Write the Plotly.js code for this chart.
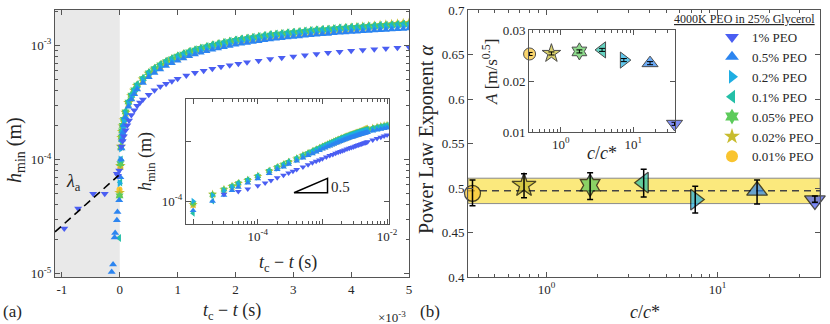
<!DOCTYPE html>
<html>
<head>
<meta charset="UTF-8">
<script src="https://cdn.plot.ly/plotly-3.0.1.min.js"></script>
<style>
  body { margin: 0; background: #fff; }
  #fig { width: 830px; height: 324px; }
</style>
</head>
<body>
<div id="fig"></div>
<script>
// ---- series (plotted from 0.01% up to 1%, legend reversed) ----
const seriesNames = ['0.01% PEO', '0.02% PEO', '0.05% PEO', '0.1% PEO', '0.2% PEO', '0.5% PEO', '1% PEO'];
const seriesColors = ['#f9c42f', '#c8bc2e', '#5dcb5b', '#24bfa7', '#1eaee3', '#2c85f0', '#4a5ef2'];
const seriesSymbols = ['circle', 'star', 'hexagram', 'triangle-left', 'triangle-right', 'triangle-up', 'triangle-down'];

// ---- panel (a): t_c - t in ms, h_min in mm ----
const tBand = [0.01, 0.02, 0.03, 0.04, 0.05, 0.07, 0.1, 0.15, 0.2, 0.25, 0.3, 0.4, 0.5, 0.6, 0.7, 0.8, 0.9, 1.0,
  1.1, 1.2, 1.3, 1.4, 1.5, 1.6, 1.7, 1.8, 1.9, 2.0, 2.1, 2.2, 2.3, 2.4, 2.5, 2.6, 2.7, 2.8, 2.9, 3.0,
  3.1, 3.2, 3.3, 3.4, 3.5, 3.6, 3.7, 3.8, 3.9, 4.0, 4.1, 4.2, 4.3, 4.4, 4.5, 4.6, 4.7, 4.8, 4.9, 5.0,
  6, 7, 8, 9, 10];

const h001 = [0.085, 0.129, 0.153, 0.174, 0.195, 0.220, 0.256, 0.313, 0.359, 0.400, 0.441, 0.502, 0.564, 0.615, 0.661, 0.707, 0.748, 0.789,
  0.825, 0.861, 0.892, 0.923, 0.953, 0.984, 1.010, 1.035, 1.061, 1.087, 1.107, 1.128, 1.148, 1.169, 1.189, 1.210, 1.225, 1.240, 1.256, 1.271,
  1.286, 1.302, 1.317, 1.333, 1.343, 1.353, 1.370, 1.388, 1.404, 1.420, 1.435, 1.450, 1.465, 1.480, 1.495, 1.510, 1.524, 1.538, 1.552, 1.565,
  1.63, 1.69, 1.74, 1.78, 1.82];
const h002 = [0.088, 0.130, 0.155, 0.175, 0.196, 0.221, 0.258, 0.314, 0.361, 0.402, 0.443, 0.505, 0.567, 0.618, 0.664, 0.711, 0.752, 0.793,
  0.829, 0.865, 0.896, 0.927, 0.958, 0.989, 1.015, 1.040, 1.066, 1.092, 1.112, 1.133, 1.154, 1.174, 1.195, 1.215, 1.231, 1.246, 1.262, 1.277,
  1.293, 1.308, 1.324, 1.339, 1.349, 1.360, 1.375, 1.395, 1.410, 1.425, 1.440, 1.455, 1.470, 1.485, 1.500, 1.515, 1.530, 1.545, 1.558, 1.570,
  1.63, 1.69, 1.74, 1.78, 1.82];
const h005 = [0.092, 0.128, 0.157, 0.178, 0.199, 0.225, 0.261, 0.319, 0.366, 0.408, 0.449, 0.512, 0.575, 0.627, 0.674, 0.721, 0.763, 0.805,
  0.841, 0.878, 0.909, 0.941, 0.972, 1.003, 1.029, 1.055, 1.082, 1.108, 1.129, 1.150, 1.170, 1.191, 1.212, 1.233, 1.249, 1.264, 1.280, 1.296,
  1.311, 1.327, 1.343, 1.359, 1.369, 1.379, 1.395, 1.411, 1.421, 1.432, 1.442, 1.453, 1.463, 1.473, 1.484, 1.494, 1.505, 1.515, 1.526, 1.536,
  1.609, 1.672, 1.724, 1.766, 1.808];
const h01 = [0.063, 0.100, 0.145, 0.175, 0.200, 0.228, 0.265, 0.323, 0.371, 0.413, 0.456, 0.519, 0.583, 0.636, 0.684, 0.731, 0.774, 0.816,
  0.853, 0.890, 0.922, 0.954, 0.986, 1.018, 1.044, 1.071, 1.097, 1.124, 1.145, 1.166, 1.187, 1.208, 1.230, 1.251, 1.267, 1.283, 1.299, 1.314,
  1.330, 1.346, 1.362, 1.378, 1.389, 1.399, 1.415, 1.431, 1.442, 1.452, 1.463, 1.473, 1.484, 1.495, 1.505, 1.516, 1.526, 1.537, 1.548, 1.558,
  1.632, 1.696, 1.749, 1.791, 1.834];
const h02 = [0.100, 0.125, 0.150, 0.170, 0.190, 0.215, 0.250, 0.305, 0.350, 0.390, 0.430, 0.490, 0.550, 0.600, 0.645, 0.690, 0.730, 0.770,
  0.805, 0.840, 0.870, 0.900, 0.930, 0.960, 0.985, 1.010, 1.035, 1.060, 1.080, 1.100, 1.120, 1.140, 1.160, 1.180, 1.195, 1.210, 1.225, 1.240,
  1.255, 1.270, 1.285, 1.300, 1.310, 1.320, 1.335, 1.350, 1.360, 1.370, 1.380, 1.390, 1.400, 1.410, 1.420, 1.430, 1.440, 1.450, 1.460, 1.470,
  1.540, 1.600, 1.650, 1.690, 1.730];
const h05 = [0.070, 0.100, 0.125, 0.150, 0.170, 0.200, 0.235, 0.290, 0.335, 0.372, 0.410, 0.468, 0.525, 0.573, 0.616, 0.659, 0.697, 0.735,
  0.769, 0.802, 0.831, 0.860, 0.888, 0.917, 0.941, 0.965, 0.988, 1.012, 1.031, 1.050, 1.070, 1.089, 1.108, 1.127, 1.141, 1.156, 1.170, 1.184,
  1.199, 1.213, 1.227, 1.242, 1.251, 1.261, 1.275, 1.289, 1.299, 1.308, 1.318, 1.327, 1.337, 1.347, 1.356, 1.366, 1.375, 1.385, 1.394, 1.404,
  1.471, 1.528, 1.576, 1.614, 1.652];

const t1 = [0.03, 0.05, 0.07, 0.1, 0.13, 0.16, 0.2, 0.25, 0.3, 0.35, 0.4, 0.5, 0.6, 0.7, 0.8, 0.9, 1.0, 1.15,
  1.3, 1.45, 1.6, 1.75, 1.9, 2.05, 2.2, 2.4, 2.6, 2.8, 3.0, 3.2, 3.4, 3.6, 3.8, 4.0, 4.2, 4.4, 4.6, 4.8, 5.0,
  6, 7, 8, 9, 10];
const h1 = [0.130, 0.145, 0.160, 0.180, 0.200, 0.220, 0.245, 0.270, 0.295, 0.315, 0.335, 0.370, 0.405, 0.435, 0.460, 0.485, 0.510, 0.545,
  0.575, 0.600, 0.625, 0.650, 0.670, 0.690, 0.710, 0.735, 0.760, 0.780, 0.800, 0.820, 0.840, 0.860, 0.880, 0.895, 0.910, 0.925, 0.940, 0.955, 0.970,
  1.040, 1.100, 1.160, 1.210, 1.260];

// points recorded before pinch-off (negative t_c - t)
const tPre001 = [-0.005], hPre001 = [0.0545];
const tPre002 = [-0.003], hPre002 = [0.051];
const tPre005 = [-0.004], hPre005 = [0.048];
const tPre01 = [-0.01], hPre01 = [0.0205];
const tPre02 = [-0.005], hPre02 = [0.062];
const tPre05 = [-0.14, -0.116, -0.09, -0.08, -0.05, -0.04, -0.01];
const hPre05 = [0.0103, 0.0120, 0.0207, 0.0227, 0.0293, 0.0346, 0.0440];
const tPre1 = [-0.96, -0.72, -0.46, -0.26, -0.05, -0.03, -0.01];
const hPre1 = [0.0248, 0.0372, 0.050, 0.050, 0.075, 0.072, 0.080];

// lambda_a fit line (ms, mm)
const lambdaT = [-1.12, -0.02];
const lambdaH = [0.0232, 0.0725];

// slope 0.5 guide triangle in the inset (s, m)
const slopeT = [3.63e-4, 1.2e-3, 1.2e-3, 3.63e-4];
const slopeH = [1.38e-4, 1.38e-4, 2.4e-4, 1.38e-4];

// ---- panel (b) ----
const cRatio = [0.37, 0.74, 1.8, 3.7, 7.4, 17, 37];
const alpha = [0.494, 0.503, 0.503, 0.506, 0.487, 0.497, 0.486];
const alphaErrUp = [0.015, 0.013, 0.014, 0.015, 0.015, 0.012, 0.005];
const alphaErrDn = [0.014, 0.014, 0.016, 0.016, 0.015, 0.015, 0.002];
const alphaMean = 0.497;
const alphaBand = [0.4825, 0.511];
const prefA = [0.0253, 0.0254, 0.0258, 0.0261, 0.0241, 0.0235, 0.0116];
const prefAErr = [0.0003, 0.0003, 0.0003, 0.0003, 0.0003, 0.0003, 0.0003];
const prefAMean = 0.02525;

// ---------------------------------------------------------------
const W = 830, H = 324;
const px = v => v / W;
const py = v => 1 - v / H;
const FONT = 'Liberation Serif';
const AX = '#555555';
const scale = (arr, k) => arr.map(v => v * k);

const aT = [tPre001.concat(tBand), tPre002.concat(tBand), tPre005.concat(tBand), tPre01.concat(tBand),
  tPre02.concat(tBand), tPre05.concat(tBand), tPre1.concat(t1)];
const aH = [hPre001.concat(h001), hPre002.concat(h002), hPre005.concat(h005), hPre01.concat(h01),
  hPre02.concat(h02), hPre05.concat(h05), hPre1.concat(h1)];
const sizeA = [6, 8, 7, 7, 7, 7, 7];

const traces = [];
for (let i = 0; i < seriesNames.length; i++) {
  traces.push({
    x: scale(aT[i], 1e-3), y: scale(aH[i], 1e-3), xaxis: 'x', yaxis: 'y', type: 'scatter', mode: 'markers',
    name: seriesNames[i], showlegend: true,
    marker: { symbol: seriesSymbols[i], color: seriesColors[i], size: sizeA[i] }
  });
}
for (let i = 0; i < seriesNames.length; i++) {
  traces.push({
    x: scale(aT[i], 1e-3), y: scale(aH[i], 1e-3), xaxis: 'x3', yaxis: 'y3', type: 'scatter', mode: 'markers',
    showlegend: false,
    marker: { symbol: seriesSymbols[i], color: seriesColors[i], size: sizeA[i] - 1 }
  });
}
traces.push({
  x: scale(lambdaT, 1e-3), y: scale(lambdaH, 1e-3), xaxis: 'x', yaxis: 'y', type: 'scatter', mode: 'lines',
  showlegend: false, line: { color: 'black', width: 1.6, dash: '8px,5px' }
});
traces.push({
  x: slopeT, y: slopeH, xaxis: 'x3', yaxis: 'y3', type: 'scatter', mode: 'lines',
  showlegend: false, line: { color: 'black', width: 1.5 }
});

// panel (b) main + inset
const sizeB = [16, 18, 17, 18, 18, 18, 18];
const sizeBi = [12, 14, 13, 14, 14, 14, 14];
traces.push({
  x: cRatio, y: alpha, xaxis: 'x2', yaxis: 'y2', type: 'scatter', mode: 'markers',
  showlegend: false, cliponaxis: false,
  marker: { symbol: seriesSymbols, color: seriesColors, size: sizeB, line: { color: 'black', width: 1.3 } }
});
traces.push({
  x: cRatio, y: alpha, xaxis: 'x2', yaxis: 'y2', type: 'scatter', mode: 'markers',
  showlegend: false, cliponaxis: false,
  marker: { size: 1, color: 'rgba(0,0,0,0)' },
  error_y: { type: 'data', symmetric: false, array: alphaErrUp, arrayminus: alphaErrDn, color: 'black', thickness: 1.5, width: 3 }
});
traces.push({
  x: cRatio, y: prefA, xaxis: 'x4', yaxis: 'y4', type: 'scatter', mode: 'markers',
  showlegend: false, cliponaxis: false,
  marker: { symbol: seriesSymbols, color: seriesColors, size: sizeBi, line: { color: 'black', width: 1 } }
});
traces.push({
  x: cRatio, y: prefA, xaxis: 'x4', yaxis: 'y4', type: 'scatter', mode: 'markers',
  showlegend: false, cliponaxis: false,
  marker: { size: 1, color: 'rgba(0,0,0,0)' },
  error_y: { type: 'data', array: prefAErr, color: 'black', thickness: 1, width: 3 }
});

// minor tick helpers
function logMinor(d0, d1) {
  const out = [];
  for (let d = d0; d <= d1; d++) for (let m = 2; m <= 9; m++) out.push(m * Math.pow(10, d));
  return out;
}
const sup = e => '10<sup>' + e + '</sup>';

const base = {
  showline: true, linecolor: AX, linewidth: 1, mirror: 'ticks',
  ticks: 'inside', ticklen: 5, tickcolor: AX, showgrid: false, zeroline: false,
  tickfont: { family: FONT, size: 13, color: '#262626' }
};
const minorStyle = { ticks: 'inside', ticklen: 3, tickcolor: AX, showgrid: false };

const layout = {
  width: W, height: H,
  margin: { l: 0, r: 0, t: 0, b: 0 },
  paper_bgcolor: 'white', plot_bgcolor: 'white',
  font: { family: FONT, size: 13, color: '#262626' },
  showlegend: true,
  legend: {
    x: px(712), y: py(22), xanchor: 'left', yanchor: 'top',
    traceorder: 'reversed', itemsizing: 'constant',
    bgcolor: 'rgba(0,0,0,0)', borderwidth: 0,
    font: { family: FONT, size: 13, color: '#262626' }
  },
  xaxis: Object.assign({}, base, {
    domain: [px(55), px(409)], anchor: 'y', range: [-1.12e-3, 5.0e-3],
    tickvals: [-1e-3, 0, 1e-3, 2e-3, 3e-3, 4e-3, 5e-3], ticktext: ['-1', '0', '1', '2', '3', '4', '5']
  }),
  yaxis: Object.assign({}, base, {
    domain: [py(277), py(10)], anchor: 'x', type: 'log', range: [-5.03, -2.69],
    tickvals: [1e-5, 1e-4, 1e-3], ticktext: [sup('-5'), sup('-4'), sup('-3')],
    minor: Object.assign({ tickvals: logMinor(-5, -3) }, minorStyle)
  }),
  xaxis3: Object.assign({}, base, {
    domain: [px(186), px(389)], anchor: 'y3', type: 'log', range: [-5.11, -1.97],
    tickvals: [1e-5, 1e-4, 1e-3, 1e-2], ticktext: ['', sup('-4'), '', sup('-2')],
    minor: Object.assign({ tickvals: logMinor(-5, -3) }, minorStyle)
  }),
  yaxis3: Object.assign({}, base, {
    domain: [py(224), py(99)], anchor: 'x3', type: 'log', range: [-4.38, -2.3],
    tickvals: [1e-4, 1e-3], ticktext: [sup('-4'), '']
  }),
  xaxis2: Object.assign({}, base, {
    domain: [px(468), px(820)], anchor: 'y2', type: 'log', range: [-0.458, 1.598],
    tickvals: [1, 10], ticktext: [sup('0'), sup('1')],
    minor: Object.assign({ tickvals: logMinor(-1, 1) }, minorStyle)
  }),
  yaxis2: Object.assign({}, base, {
    domain: [py(277), py(10)], anchor: 'x2', range: [0.4, 0.7],
    tickvals: [0.4, 0.45, 0.5, 0.55, 0.6, 0.65, 0.7], ticktext: ['0.4', '0.45', '0.5', '0.55', '0.6', '0.65', '0.7']
  }),
  xaxis4: Object.assign({}, base, {
    domain: [px(529), px(675)], anchor: 'y4', type: 'log', range: [-0.44, 1.575],
    tickvals: [1, 10], ticktext: [sup('0'), sup('1')],
    minor: Object.assign({ tickvals: logMinor(-1, 1) }, minorStyle)
  }),
  yaxis4: Object.assign({}, base, {
    domain: [py(132), py(30)], anchor: 'x4', range: [0.01, 0.03],
    tickvals: [0.01, 0.02, 0.03], ticktext: ['0.01', '0.02', '0.03']
  }),
  shapes: [
    { type: 'rect', xref: 'x', yref: 'y domain', x0: -2e-3, x1: 0, y0: 0, y1: 1,
      fillcolor: '#e9e9e9', line: { width: 0 }, layer: 'below' },
    { type: 'rect', xref: 'x2 domain', yref: 'y2', x0: 0, x1: 1, y0: alphaBand[0], y1: alphaBand[1],
      fillcolor: '#fbe97d', line: { color: '#8a8a8a', width: 1 }, layer: 'below' },
    { type: 'line', xref: 'x2 domain', yref: 'y2', x0: 0, x1: 1, y0: alphaMean, y1: alphaMean,
      line: { color: '#444', width: 1.5, dash: '7px,5px' }, layer: 'below' },
    { type: 'line', xref: 'x4 domain', yref: 'y4', x0: 0, x1: 1, y0: prefAMean, y1: prefAMean,
      line: { color: '#444', width: 1.5, dash: '7px,5px' }, layer: 'below' }
  ],
  annotations: [
    { text: '<i>h</i><sub>min</sub> (m)', x: px(15), y: py(150), textangle: -90, font: { size: 20 } },
    { text: '<i>t</i><sub>c</sub> − <i>t</i> (s)', x: px(232), y: py(311), font: { size: 18 } },
    { text: '×10<sup>-3</sup>', x: px(392), y: py(317), font: { size: 13 } },
    { text: '(a)', x: px(12), y: py(311), font: { size: 17 } },
    { text: '<i>λ</i><sub>a</sub>', x: px(73), y: py(183), font: { size: 18 } },
    { text: '<i>h</i><sub>min</sub> (m)', x: px(146), y: py(162), textangle: -90, font: { size: 18 } },
    { text: '<i>t</i><sub>c</sub> − <i>t</i> (s)', x: px(288), y: py(263), font: { size: 18 } },
    { text: '0.5', x: px(340), y: py(187), font: { size: 15 } },
    { text: 'Power Law Exponent <i>α</i>', x: px(427), y: py(140), textangle: -90, font: { size: 20 } },
    { text: '<i>c</i>/<i>c</i>*', x: px(645), y: py(312), font: { size: 18 } },
    { text: '(b)', x: px(430), y: py(311), font: { size: 17 } },
    { text: '<i>A</i> [m/s<sup>0.5</sup>]', x: px(490), y: py(72), textangle: -90, font: { size: 17 } },
    { text: '<i>c</i>/<i>c</i>*', x: px(602), y: py(153), font: { size: 18 } },
    { text: '<u>4000K PEO in 25% Glycerol</u>', x: px(817), y: py(19), xanchor: 'right', font: { size: 12 } }
  ].map(a => Object.assign({ xref: 'paper', yref: 'paper', showarrow: false, xanchor: 'center', yanchor: 'middle' },
    a, { font: Object.assign({ family: FONT, color: '#262626' }, a.font) }))
};

Plotly.newPlot('fig', traces, layout, { staticPlot: true, displayModeBar: false });
</script>
</body>
</html>
